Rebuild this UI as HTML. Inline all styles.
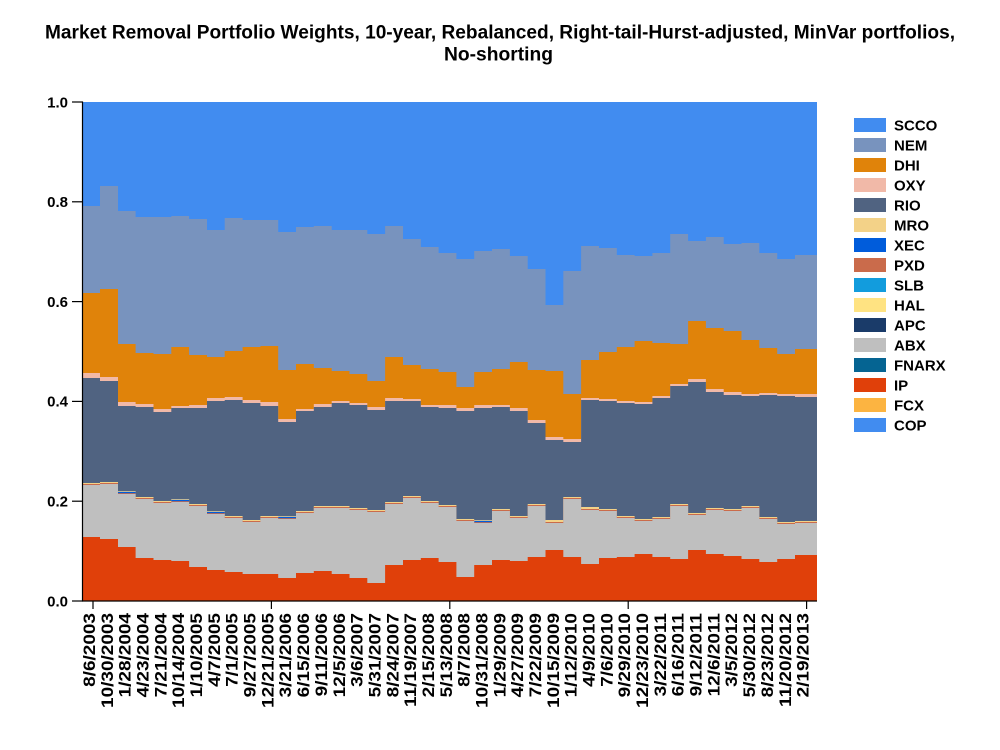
<!DOCTYPE html>
<html>
<head>
<meta charset="utf-8">
<style>
  html, body { margin: 0; padding: 0; background: #ffffff; }
  svg { display: block; }
  text { font-family: "Liberation Sans", Arial, sans-serif; font-weight: bold; fill: #000; }
</style>
</head>
<body>
<svg width="1000" height="750" viewBox="0 0 1000 750" xmlns="http://www.w3.org/2000/svg">
  <rect x="0" y="0" width="1000" height="750" fill="#ffffff"/>

  <!-- Title -->
  <text x="45" y="38.5" font-size="19" textLength="910" lengthAdjust="spacingAndGlyphs">Market Removal Portfolio Weights, 10-year, Rebalanced, Right-tail-Hurst-adjusted, MinVar portfolios,</text>
  <text x="444" y="60.5" font-size="19" textLength="109" lengthAdjust="spacingAndGlyphs">No-shorting</text>

  <!-- Plot: SCCO background -->
  <rect x="83" y="102" width="734" height="499" fill="#418CF0"/>

  <!-- NEM -->
  <path fill="#7893BE" d="M83 601V206H100V186H118V211H135.6V217H153.5V217H171.3V216H189.1V219H207V230H224.7V218H242.6V220H260.4V220H278.2V232H296V227H313.8V226H331.7V230H349.5V230H367.3V234H385.1V226H403V239H420.8V247H438.6V253H456.4V259H474.2V251H492V249H509.9V256H527.7V269H545.5V305H563.3V271H581.1V246H599V248H616.8V255H634.6V256H652.4V253H670.2V234H688.1V241H705.9V237H723.7V244H741.5V243H759.3V253H777.2V259H795V255H817V601Z"/>
  <!-- DHI -->
  <path fill="#E0830A" d="M83 601V293H100V289H118V344H135.6V353H153.5V354H171.3V347H189.1V355H207V357H224.7V351H242.6V347H260.4V346H278.2V370H296V364H313.8V368H331.7V371H349.5V374H367.3V381H385.1V357H403V365H420.8V369H438.6V372H456.4V387H474.2V372H492V369H509.9V362H527.7V370H545.5V371H563.3V394H581.1V360H599V352H616.8V347H634.6V341H652.4V343H670.2V344H688.1V321H705.9V328H723.7V331H741.5V340H759.3V348H777.2V354H795V349H817V601Z"/>
  <!-- OXY -->
  <path fill="#F1B9A8" d="M83 601V373H100V377H118V402H135.6V404H153.5V409H171.3V406H189.1V405H207V398H224.7V397H242.6V400H260.4V402H278.2V419H296V409H313.8V404H331.7V401H349.5V403H367.3V407H385.1V398H403V399H420.8V405H438.6V405H456.4V408H474.2V405H492V405H509.9V408H527.7V420H545.5V437H563.3V439H581.1V398H599V399H616.8V401H634.6V402H652.4V396H670.2V384H688.1V379H705.9V389H723.7V392H741.5V394H759.3V393H777.2V394H795V394H817V601Z"/>
  <!-- RIO -->
  <path fill="#506381" d="M83 601V378H100V381H118V406H135.6V407H153.5V412H171.3V408H189.1V408H207V401H224.7V400H242.6V403H260.4V406H278.2V422H296V411H313.8V407H331.7V403H349.5V405H367.3V410H385.1V401H403V401H420.8V407H438.6V408H456.4V411H474.2V408H492V407H509.9V411H527.7V423H545.5V440H563.3V442H581.1V400H599V401H616.8V403H634.6V404H652.4V398H670.2V386H688.1V382H705.9V392H723.7V395H741.5V396H759.3V395H777.2V396H795V397H817V601Z"/>
  <!-- MRO -->
  <path fill="#F3D288" d="M83 601V483H100V482H118V491H135.6V497H153.5V501H171.3V499H189.1V504H207V511H224.7V516H242.6V520H260.4V516H278.2V516H296V511H313.8V506H331.7V506H349.5V508H367.3V510H385.1V502H403V496H420.8V501H438.6V505H456.4V519H474.2V520H492V509H509.9V516H527.7V504H545.5V520H563.3V497H581.1V507H599V509H616.8V516H634.6V519H652.4V517H670.2V504H688.1V513H705.9V508H723.7V509H741.5V506H759.3V517H777.2V522H795V521H817V601Z"/>
  <!-- PXD -->
  <path fill="#CA6B4B" d="M83 601V484H100V483H118V493H135.6V498H153.5V502H171.3V501H189.1V505H207V513H224.7V517H242.6V521H260.4V517H278.2V518H296V512H313.8V507H331.7V507H349.5V509H367.3V511H385.1V503H403V497H420.8V502H438.6V506H456.4V520H474.2V522H492V510H509.9V517H527.7V505H545.5V522H563.3V498H581.1V509H599V510H616.8V517H634.6V520H652.4V518H670.2V505H688.1V514H705.9V509H723.7V510H741.5V507H759.3V518H777.2V523H795V522H817V601Z"/>
  <!-- XEC -->
  <g fill="#005CDB">
    <rect x="118" y="491.8" width="17.6" height="1.4"/>
    <rect x="171.3" y="499.8" width="17.8" height="1.4"/>
    <rect x="207" y="511.8" width="17.7" height="1.4"/>
    <rect x="278.2" y="516.8" width="17.8" height="1.4"/>
    <rect x="474.2" y="520.8" width="17.8" height="1.4"/>
  </g>
  <!-- ABX -->
  <path fill="#BFBFBF" d="M83 601V485H100V484H118V494H135.6V499H153.5V503H171.3V502H189.1V506H207V514H224.7V518H242.6V522H260.4V518H278.2V519H296V513H313.8V508H331.7V508H349.5V510H367.3V512H385.1V504H403V498H420.8V503H438.6V507H456.4V521H474.2V523H492V511H509.9V518H527.7V506H545.5V523H563.3V499H581.1V510H599V511H616.8V518H634.6V521H652.4V519H670.2V506H688.1V515H705.9V510H723.7V511H741.5V508H759.3V519H777.2V524H795V523H817V601Z"/>
  <!-- IP -->
  <path fill="#E0400A" d="M83 601V537H100V539H118V547H135.6V558H153.5V560H171.3V561H189.1V567H207V570H224.7V572H242.6V574H260.4V574H278.2V578H296V573H313.8V571H331.7V574H349.5V578H367.3V583H385.1V565H403V560H420.8V558H438.6V562H456.4V577H474.2V565H492V560H509.9V561H527.7V557H545.5V550H563.3V557H581.1V564H599V558H616.8V557H634.6V554H652.4V557H670.2V559H688.1V550H705.9V554H723.7V556H741.5V559H759.3V562H777.2V559H795V555H817V601Z"/>

  <!-- Axes -->
  <line x1="82.5" y1="101.5" x2="82.5" y2="601.5" stroke="#000" stroke-width="1.2"/>
  <line x1="82" y1="601" x2="817" y2="601" stroke="#000" stroke-width="1.3"/>
  <!-- Y ticks -->
  <g stroke="#000" stroke-width="1.2">
    <line x1="72" y1="601" x2="83" y2="601"/>
    <line x1="72" y1="501.2" x2="83" y2="501.2"/>
    <line x1="72" y1="401.4" x2="83" y2="401.4"/>
    <line x1="72" y1="301.6" x2="83" y2="301.6"/>
    <line x1="72" y1="201.8" x2="83" y2="201.8"/>
    <line x1="72" y1="102" x2="83" y2="102"/>
  </g>
  <g font-size="15" text-anchor="end">
    <text x="68" y="606.3">0.0</text>
    <text x="68" y="506.5">0.2</text>
    <text x="68" y="406.7">0.4</text>
    <text x="68" y="306.9">0.6</text>
    <text x="68" y="207.1">0.8</text>
    <text x="68" y="107.3">1.0</text>
  </g>
  <!-- X ticks -->
  <g stroke="#000" stroke-width="1.2">
    <line x1="93" y1="601" x2="93" y2="609"/>
    <line x1="271.4" y1="601" x2="271.4" y2="609"/>
    <line x1="449.8" y1="601" x2="449.8" y2="609"/>
    <line x1="628.2" y1="601" x2="628.2" y2="609"/>
    <line x1="806.6" y1="601" x2="806.6" y2="609"/>
  </g>
  <!-- X labels -->
  <g font-size="19" text-anchor="end">
    <text transform="translate(95,613) rotate(-90) scale(1,0.88)">8/6/2003</text>
    <text transform="translate(112.84,613) rotate(-90) scale(1,0.88)">10/30/2003</text>
    <text transform="translate(130.68,613) rotate(-90) scale(1,0.88)">1/28/2004</text>
    <text transform="translate(148.52,613) rotate(-90) scale(1,0.88)">4/23/2004</text>
    <text transform="translate(166.36,613) rotate(-90) scale(1,0.88)">7/21/2004</text>
    <text transform="translate(184.2,613) rotate(-90) scale(1,0.88)">10/14/2004</text>
    <text transform="translate(202.04,613) rotate(-90) scale(1,0.88)">1/10/2005</text>
    <text transform="translate(219.88,613) rotate(-90) scale(1,0.88)">4/7/2005</text>
    <text transform="translate(237.72,613) rotate(-90) scale(1,0.88)">7/1/2005</text>
    <text transform="translate(255.56,613) rotate(-90) scale(1,0.88)">9/27/2005</text>
    <text transform="translate(273.4,613) rotate(-90) scale(1,0.88)">12/21/2005</text>
    <text transform="translate(291.24,613) rotate(-90) scale(1,0.88)">3/21/2006</text>
    <text transform="translate(309.08,613) rotate(-90) scale(1,0.88)">6/15/2006</text>
    <text transform="translate(326.92,613) rotate(-90) scale(1,0.88)">9/11/2006</text>
    <text transform="translate(344.76,613) rotate(-90) scale(1,0.88)">12/5/2006</text>
    <text transform="translate(362.6,613) rotate(-90) scale(1,0.88)">3/6/2007</text>
    <text transform="translate(380.44,613) rotate(-90) scale(1,0.88)">5/31/2007</text>
    <text transform="translate(398.28,613) rotate(-90) scale(1,0.88)">8/24/2007</text>
    <text transform="translate(416.12,613) rotate(-90) scale(1,0.88)">11/19/2007</text>
    <text transform="translate(433.96,613) rotate(-90) scale(1,0.88)">2/15/2008</text>
    <text transform="translate(451.8,613) rotate(-90) scale(1,0.88)">5/13/2008</text>
    <text transform="translate(469.64,613) rotate(-90) scale(1,0.88)">8/7/2008</text>
    <text transform="translate(487.48,613) rotate(-90) scale(1,0.88)">10/31/2008</text>
    <text transform="translate(505.32,613) rotate(-90) scale(1,0.88)">1/29/2009</text>
    <text transform="translate(523.16,613) rotate(-90) scale(1,0.88)">4/27/2009</text>
    <text transform="translate(541,613) rotate(-90) scale(1,0.88)">7/22/2009</text>
    <text transform="translate(558.84,613) rotate(-90) scale(1,0.88)">10/15/2009</text>
    <text transform="translate(576.68,613) rotate(-90) scale(1,0.88)">1/12/2010</text>
    <text transform="translate(594.52,613) rotate(-90) scale(1,0.88)">4/9/2010</text>
    <text transform="translate(612.36,613) rotate(-90) scale(1,0.88)">7/6/2010</text>
    <text transform="translate(630.2,613) rotate(-90) scale(1,0.88)">9/29/2010</text>
    <text transform="translate(648.04,613) rotate(-90) scale(1,0.88)">12/23/2010</text>
    <text transform="translate(665.88,613) rotate(-90) scale(1,0.88)">3/22/2011</text>
    <text transform="translate(683.72,613) rotate(-90) scale(1,0.88)">6/16/2011</text>
    <text transform="translate(701.56,613) rotate(-90) scale(1,0.88)">9/12/2011</text>
    <text transform="translate(719.4,613) rotate(-90) scale(1,0.88)">12/6/2011</text>
    <text transform="translate(737.24,613) rotate(-90) scale(1,0.88)">3/5/2012</text>
    <text transform="translate(755.08,613) rotate(-90) scale(1,0.88)">5/30/2012</text>
    <text transform="translate(772.92,613) rotate(-90) scale(1,0.88)">8/23/2012</text>
    <text transform="translate(790.76,613) rotate(-90) scale(1,0.88)">11/20/2012</text>
    <text transform="translate(808.6,613) rotate(-90) scale(1,0.88)">2/19/2013</text>
  </g>

  <!-- Legend -->
  <g>
    <rect x="854" y="118" width="32" height="14" fill="#418CF0"/>
    <rect x="854" y="138" width="32" height="14" fill="#7893BE"/>
    <rect x="854" y="158" width="32" height="14" fill="#E0830A"/>
    <rect x="854" y="178" width="32" height="14" fill="#F1B9A8"/>
    <rect x="854" y="198" width="32" height="14" fill="#506381"/>
    <rect x="854" y="218" width="32" height="14" fill="#F3D288"/>
    <rect x="854" y="238" width="32" height="14" fill="#005CDB"/>
    <rect x="854" y="258" width="32" height="14" fill="#CA6B4B"/>
    <rect x="854" y="278" width="32" height="14" fill="#129CDD"/>
    <rect x="854" y="298" width="32" height="14" fill="#FFE382"/>
    <rect x="854" y="318" width="32" height="14" fill="#1A3B69"/>
    <rect x="854" y="338" width="32" height="14" fill="#BFBFBF"/>
    <rect x="854" y="358" width="32" height="14" fill="#056492"/>
    <rect x="854" y="378" width="32" height="14" fill="#E0400A"/>
    <rect x="854" y="398" width="32" height="14" fill="#FCB441"/>
    <rect x="854" y="418" width="32" height="14" fill="#418CF0"/>
  </g>
  <g font-size="15">
    <text x="894" y="130.5">SCCO</text>
    <text x="894" y="150.5">NEM</text>
    <text x="894" y="170.5">DHI</text>
    <text x="894" y="190.5">OXY</text>
    <text x="894" y="210.5">RIO</text>
    <text x="894" y="230.5">MRO</text>
    <text x="894" y="250.5">XEC</text>
    <text x="894" y="270.5">PXD</text>
    <text x="894" y="290.5">SLB</text>
    <text x="894" y="310.5">HAL</text>
    <text x="894" y="330.5">APC</text>
    <text x="894" y="350.5">ABX</text>
    <text x="894" y="370.5">FNARX</text>
    <text x="894" y="390.5">IP</text>
    <text x="894" y="410.5">FCX</text>
    <text x="894" y="430.5">COP</text>
  </g>
</svg>
</body>
</html>
